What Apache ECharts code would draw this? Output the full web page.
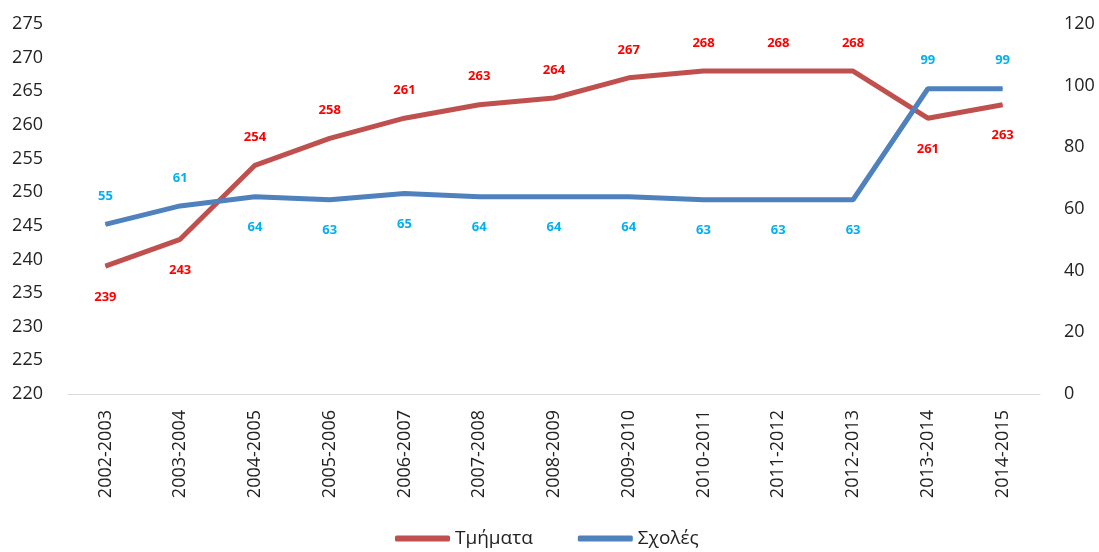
<!DOCTYPE html>
<html>
<head>
<meta charset="utf-8">
<script src="https://cdn.jsdelivr.net/npm/echarts@6/dist/echarts.min.js"></script>
<style>
  html, body { margin: 0; padding: 0; background: #fff; }
  #main { width: 1099px; height: 552px; }
</style>
</head>
<body>
<div id="main"></div>
<script>
// ακαδημαϊκά έτη
const years = ['2002-2003', '2003-2004', '2004-2005', '2005-2006', '2006-2007', '2007-2008',
  '2008-2009', '2009-2010', '2010-2011', '2011-2012', '2012-2013', '2013-2014', '2014-2015'];
const tmimata = [239, 243, 254, 258, 261, 263, 264, 267, 268, 268, 268, 261, 263];
const sxoles = [55, 61, 64, 63, 65, 64, 64, 64, 63, 63, 63, 99, 99];
// θέση ετικέτας για κάθε σημείο
const tmimataPos = ['bottom', 'bottom', 'top', 'top', 'top', 'top', 'top', 'top', 'top', 'top', 'top', 'bottom', 'bottom'];
const sxolesPos = ['top', 'top', 'bottom', 'bottom', 'bottom', 'bottom', 'bottom', 'bottom', 'bottom', 'bottom', 'bottom', 'top', 'top'];

const font = '"Open Sans", "Noto Sans", sans-serif';

const withLabels = (vals, pos) => vals.map((v, i) => ({
  value: v,
  label: { position: pos[i], distance: pos[i] === 'top' ? 21 : 24 },
}));

const myChart = echarts.init(document.getElementById('main'));
myChart.setOption({
  animation: false,
  grid: { left: 68, right: 59, top: 24, bottom: 158, containLabel: false, outerBoundsMode: 'none' },
  legend: {
    bottom: -1,
    left: 390,
    icon: 'roundRect',
    itemWidth: 55,
    itemHeight: 6,
    itemGap: 45,
    textStyle: { fontFamily: font, fontSize: 19, color: '#222' },
  },
  xAxis: {
    type: 'category',
    data: years,
    axisLine: { lineStyle: { color: '#d9d9d9', width: 1 } },
    axisTick: { show: false },
    axisLabel: { rotate: 90, fontFamily: font, fontSize: 18, color: '#222', margin: 16 },
  },
  yAxis: [{
    type: 'value',
    min: 220,
    max: 275,
    interval: 5,
    splitLine: { show: false },
    axisLabel: { fontFamily: font, fontSize: 18, color: '#222', margin: 25 },
  }, {
    type: 'value',
    min: 0,
    max: 120,
    interval: 20,
    splitLine: { show: false },
    axisLabel: { fontFamily: font, fontSize: 18, color: '#222', margin: 24 },
  }],
  series: [{
    name: 'Τμήματα',
    type: 'line',
    yAxisIndex: 0,
    data: withLabels(tmimata, tmimataPos),
    symbol: 'circle',
    symbolSize: 1,
    lineStyle: { color: '#c0504d', width: 5 },
    itemStyle: { color: '#c0504d' },
    label: { show: true, color: '#ff0000', fontWeight: 'bold', fontSize: 13, fontFamily: font },
  }, {
    name: 'Σχολές',
    type: 'line',
    yAxisIndex: 1,
    data: withLabels(sxoles, sxolesPos),
    symbol: 'circle',
    symbolSize: 1,
    lineStyle: { color: '#4f81bd', width: 5 },
    itemStyle: { color: '#4f81bd' },
    label: { show: true, color: '#00b0f0', fontWeight: 'bold', fontSize: 13, fontFamily: font },
  }],
});
</script>
</body>
</html>
